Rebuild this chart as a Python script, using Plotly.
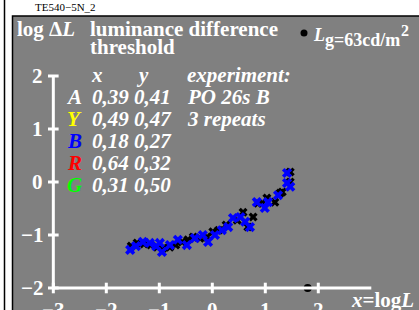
import plotly.graph_objects as go

# ---- data ----
black_x = [-1.53, -1.42, -1.29, -1.16, -1.04, -0.93, -0.80, -0.69, -0.57, -0.46, -0.36, -0.23, -0.10,
           0.01, 0.12, 0.26, 0.47, 0.58, 0.67, 0.77, 0.86, 0.94, 1.03, 1.18, 1.28, 1.32, 1.47, 1.47]
black_y = [-1.21, -1.15, -1.17, -1.19, -1.23, -1.25, -1.23, -1.19, -1.13, -1.09, -1.04, -1.06, -1.04,
           -0.94, -0.91, -0.81, -0.72, -0.57, -0.85, -0.66, -0.40, -0.40, -0.30, -0.38, -0.21, -0.19, 0.00, 0.19]
blue_x = [-1.55, -1.44, -1.31, -1.18, -1.06, -0.99, -0.95, -0.80, -0.65, -0.48, -0.33, -0.18, -0.08,
          0.05, 0.18, 0.30, 0.39, 0.53, 0.62, 0.71, 0.84, 0.99, 1.05, 1.24, 1.41, 1.41, 1.47]
blue_y = [-1.28, -1.21, -1.13, -1.15, -1.21, -1.15, -1.32, -1.19, -1.09, -1.19, -1.06, -1.00, -1.13,
          -1.00, -0.91, -0.85, -0.68, -0.66, -0.75, -0.85, -0.38, -0.49, -0.38, -0.25, 0.17, -0.02, -0.09]

x_ticks = [-3, -2, -1, 0, 1, 2]
x_tick_labels = ["−3", "−2", "−1", "0", "1", "2"]
y_ticks = [-2, -1, 0, 1, 2]
y_tick_labels = ["−2", "−1", "0", "1", "2"]

legend_letters = ["A", "Y", "B", "R", "G"]
legend_colors = ["#ffffff", "#ffff00", "#0000ff", "#ff0000", "#00ff00"]
legend_xy = ["0,39 0,41", "0,49 0,47", "0,18 0,27", "0,64 0,32", "0,31 0,50"]
legend_info = ["PO 26s B", "3 repeats"]
adapt_logL = 1.8

FONT = "Liberation Serif"
W, H = 419, 310
XR = [-4.006, 3.90]
YR = [-2.415, 3.434]

def px2x(p):
    return XR[0] + p / W * (XR[1] - XR[0])

def py2y(p):
    return YR[1] - p / H * (YR[1] - YR[0])

fig = go.Figure()

fig.add_trace(go.Scatter(x=black_x, y=black_y, mode="markers",
                         marker=dict(symbol="x", size=8, color="black", line=dict(width=0)),
                         hoverinfo="skip"))
fig.add_trace(go.Scatter(x=blue_x, y=blue_y, mode="markers",
                         marker=dict(symbol="x", size=9, color="#0000ff", line=dict(width=0)),
                         hoverinfo="skip"))
# adapting luminance marker on the x axis
fig.add_trace(go.Scatter(x=[adapt_logL], y=[-2], mode="markers",
                         marker=dict(symbol="circle", size=8, color="black"), hoverinfo="skip"))

shapes = []
# background panel
shapes.append(dict(type="rect", xref="paper", yref="paper", x0=12.5 / W, x1=1.01, y0=-0.01, y1=1 - 16 / H,
                   fillcolor="#808080", line=dict(color="black", width=1.5), layer="below"))
shapes.append(dict(type="line", xref="paper", yref="paper", x0=4.5 / W, x1=4.5 / W, y0=0, y1=1,
                   line=dict(color="black", width=1.5)))
# axes
shapes.append(dict(type="line", x0=-3, x1=3, y0=-2, y1=-2, line=dict(color="white", width=3)))
shapes.append(dict(type="line", x0=-3, x1=-3, y0=-2, y1=2, line=dict(color="white", width=3)))
for t in x_ticks:
    shapes.append(dict(type="line", x0=t, x1=t, y0=-2.1, y1=-1.9, line=dict(color="white", width=3)))
for t in y_ticks:
    shapes.append(dict(type="line", x0=-3.1, x1=-2.9, y0=t, y1=t, line=dict(color="white", width=3)))

ann = []
def text(x, y, s, size=21, color="white", xanchor="left", yanchor="middle", xref="x", yref="y"):
    ann.append(dict(x=x, y=y, xref=xref, yref=yref, text=s, showarrow=False, xanchor=xanchor,
                    yanchor=yanchor, font=dict(family=FONT, size=size, color=color)))

for t, lab in zip(y_ticks, y_tick_labels):
    text(px2x(45), t, "<b>" + lab + "</b>", xanchor="right")
for t, lab in zip(x_ticks, x_tick_labels):
    text(t, py2y(296), "<b>" + lab + "</b>", xanchor="center", yanchor="top")

text(px2x(416), py2y(300), "<b><i>x</i>=log<i>L</i></b>", xanchor="right")

text(px2x(65), py2y(7), "TE540−5N_2", size=11, color="black", xanchor="center")
text(px2x(15), py2y(29), "<b>log Δ<i>L</i></b>")
text(px2x(88), py2y(29), "<b>luminance difference</b>")
text(px2x(88), py2y(47), "<b>threshold</b>")

# Lg label
fig.add_trace(go.Scatter(x=[px2x(304)], y=[py2y(33)], mode="markers",
                         marker=dict(symbol="circle", size=7, color="black"), hoverinfo="skip"))
text(px2x(311), py2y(35), "<b><i>L</i></b>", size=18)
text(px2x(323), py2y(40), "<b>g=63cd/m</b>", size=18)
text(px2x(399), py2y(30), "<b>2</b>", size=16)

# legend block
LS = 21
text(px2x(97), py2y(75), "<b><i>x</i></b>", size=LS, xanchor="center")
text(px2x(142), py2y(75), "<b><i>y</i></b>", size=LS, xanchor="center")
text(px2x(185), py2y(75), "<b><i>experiment:</i></b>", size=LS)
row_y = [97, 119, 141, 163, 185]
for i, (L, c, xy) in enumerate(zip(legend_letters, legend_colors, legend_xy)):
    text(px2x(74), py2y(row_y[i]), "<b><i>" + L + "</i></b>", size=LS, color=c, xanchor="center")
    text(px2x(90), py2y(row_y[i]), "<b><i>" + xy + "</i></b>", size=LS)
for i, s in enumerate(legend_info):
    text(px2x(185), py2y(row_y[i]), "<b><i>" + s + "</i></b>", size=LS)

fig.update_layout(
    width=W, height=H, margin=dict(l=0, r=0, t=0, b=0),
    paper_bgcolor="white", plot_bgcolor="rgba(0,0,0,0)",
    showlegend=False,
    xaxis=dict(range=XR, visible=False, fixedrange=True),
    yaxis=dict(range=YR, visible=False, fixedrange=True),
    shapes=shapes, annotations=ann,
)

fig.write_html("out.html", config={"displayModeBar": False},
               post_script="document.body.style.margin='0px';document.body.style.overflow='hidden';")
